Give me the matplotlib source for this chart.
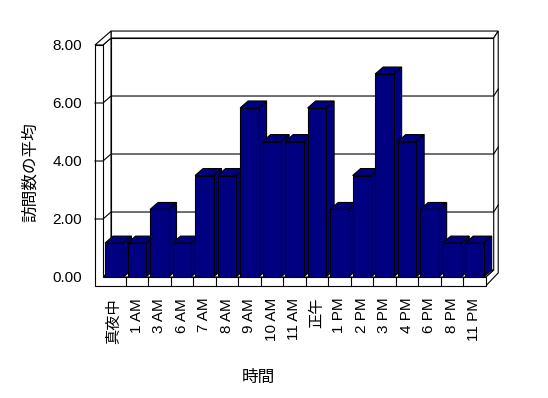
import matplotlib
matplotlib.use("Agg")
import matplotlib.pyplot as plt
from matplotlib.patches import Polygon

plt.rcParams['font.family'] = ['Liberation Sans', 'Noto Sans CJK JP']

# data
hours = ['真夜中', '1 AM', '3 AM', '6 AM', '7 AM', '8 AM', '9 AM', '10 AM', '11 AM',
         '正午', '1 PM', '2 PM', '3 PM', '4 PM', '6 PM', '8 PM', '11 PM']
avg_visits = [1.17, 1.17, 2.33, 1.17, 3.5, 3.5, 5.83, 4.67, 4.67,
              5.83, 2.33, 3.5, 7.0, 4.67, 2.33, 1.17, 1.17]
yticks = [0, 2, 4, 6, 8]
ytick_labels = ['0.00', '2.00', '4.00', '6.00', '8.00']

navy = '#000080'
lw = 0.8

fig = plt.figure(figsize=(5.48, 3.98), dpi=100)
ax = fig.add_axes([103 / 548, 121 / 398, 382.7 / 548, 232 / 398])
n = len(hours)
x0, x1 = -0.5, n - 0.5
ymax = 8
ax.set_xlim(x0, x1)
ax.set_ylim(0, ymax)
ax.set_facecolor('none')
for s in ax.spines.values():
    s.set_visible(False)

# pseudo-3d depth offsets in data units
DX, DY = 0.356, 0.241      # depth to back wall
TX, TY = 0.2, 0.24         # back wall thickness
LW = 0.356                 # left wall thickness
FT = 0.31                  # floor thickness
BX, BY = 0.356, 0.24       # bar depth
w = 0.82


def poly(pts, z, fc='white'):
    ax.add_patch(Polygon(pts, closed=True, facecolor=fc, edgecolor='black',
                         linewidth=lw, zorder=z, clip_on=False))


# back wall and its thickness
poly([(x0 + DX, DY), (x1 + DX, DY), (x1 + DX, ymax + DY), (x0 + DX, ymax + DY)], 1)
poly([(x0 + DX, ymax + DY), (x1 + DX, ymax + DY), (x1 + DX + TX, ymax + DY + TY),
      (x0 + DX, ymax + DY + TY)], 1)
# right side (back wall edge + floor side)
poly([(x1, 0), (x1, -FT), (x1 + DX + TX, 0.14), (x1 + DX + TX, ymax + DY + TY),
      (x1 + DX, ymax + DY), (x1 + DX, DY)], 1)
# left wall inner face and top
poly([(x0, 0), (x0, ymax), (x0 + DX, ymax + DY), (x0 + DX, DY)], 1)
poly([(x0 - LW, ymax), (x0, ymax), (x0 + DX, ymax + DY), (x0 + DX, ymax + DY + TY)], 1)
# floor top
poly([(x0, 0), (x1, 0), (x1 + DX, DY), (x0 + DX, DY)], 1)
# front faces of left wall + floor
poly([(x0 - LW, -FT), (x1, -FT), (x1, 0), (x0, 0), (x0, ymax), (x0 - LW, ymax)], 1)

# gridlines
for k in yticks[1:-1]:
    ax.plot([x0 - LW, x0, x0 + DX, x1 + DX, x1 + DX + TX],
            [k, k, k + DY, k + DY, k + DY + TY],
            color='black', lw=lw, zorder=1.5, clip_on=False)

# category dividers on the floor front
for i in range(n - 1):
    ax.plot([i + 0.5, i + 0.5], [-FT, 0], color='black', lw=lw, zorder=1.5, clip_on=False)

# bars
xs = list(range(n))
bars = ax.bar(xs, avg_visits, width=w, color=navy, edgecolor='black', linewidth=lw)
for i, (xc, v) in enumerate(zip(xs, avg_visits)):
    z = 3 + i * 0.01
    l, r = xc - w / 2, xc + w / 2
    poly([(r, 0), (r, v), (r + BX, v + BY), (r + BX, BY)], z, navy)
    poly([(l, v), (r, v), (r + BX, v + BY), (l + BX, v + BY)], z, navy)
    bars[i].set_zorder(z + 0.005)

ax.set_xticks(xs)
ax.set_xticklabels(hours, rotation=90, fontsize=11, va='top')
ax.set_yticks(yticks)
ax.set_yticklabels(ytick_labels, fontsize=11)
ax.tick_params(axis='both', length=0, pad=15)

fig.text(30 / 548, 1 - 172 / 398, '訪問数の平均', rotation=90, fontsize=12,
         ha='center', va='center')
fig.text(258 / 548, 1 - 377 / 398, '時間', fontsize=12, ha='center', va='center')

fig.savefig('out.png', dpi=100, facecolor='white')
